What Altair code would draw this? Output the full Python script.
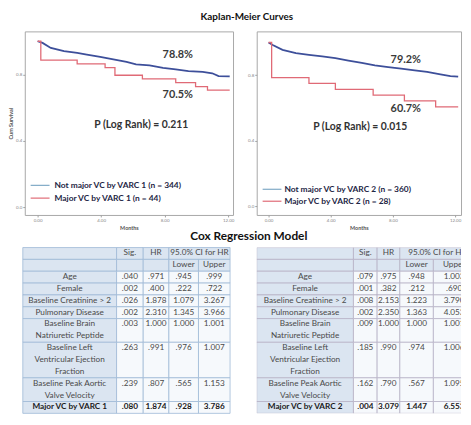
import altair as alt
import pandas as pd

FONT = "Lato"

# ---------------- Kaplan-Meier data ----------------
# VARC 1
km1_nm_month = [0, 0.31, 0.83, 1.66, 2.49, 3.1, 3.94, 4.77, 5.6, 6.2, 7.05, 7.9, 8.7, 9.5, 10.4, 11.0, 11.4, 12.1]
km1_nm_surv = [1.0, 0.99, 0.96, 0.94, 0.93, 0.92, 0.906, 0.89, 0.875, 0.86, 0.855, 0.84, 0.83, 0.82, 0.815, 0.807, 0.79, 0.788]
km1_mj_month = [0, 0.2, 2.49, 4.25, 4.87, 6.6, 8.7, 9.95, 10.7, 12.1]
km1_mj_surv = [1.0, 0.886, 0.864, 0.841, 0.795, 0.773, 0.75, 0.727, 0.705, 0.705]
# VARC 2
km2_nm_month = [0, 0.27, 0.9, 1.76, 2.6, 3.45, 4.3, 5.14, 6.0, 6.84, 7.7, 8.53, 9.4, 10.2, 11.06, 11.7, 12.2]
km2_nm_surv = [1.0, 0.985, 0.955, 0.935, 0.925, 0.915, 0.905, 0.89, 0.875, 0.86, 0.85, 0.84, 0.83, 0.82, 0.805, 0.795, 0.792]
km2_mj_month = [0, 0.2, 2.6, 4.3, 6.73, 8.74, 10.75, 12.2]
km2_mj_surv = [1.0, 0.786, 0.75, 0.714, 0.679, 0.643, 0.607, 0.607]

km1_legend = ["Not major VC by VARC 1 (n = 344)", "Major VC by VARC 1 (n = 44)"]
km2_legend = ["Not major VC by VARC 2 (n = 360)", "Major VC by VARC 2 (n = 28)"]
km1_pct = ["78.8%", "70.5%"]
km2_pct = ["79.2%", "60.7%"]
km1_p = "P (Log Rank) = 0.211"
km2_p = "P (Log Rank) = 0.015"

x_ticks = [0, 2, 4, 6, 8, 10, 12]
y_ticks = [0.0, 0.2, 0.4, 0.6, 0.8, 1.0]

# ---------------- Cox regression tables ----------------
row_labels = [["Age"], ["Female"], ["Baseline Creatinine > 2"], ["Pulmonary Disease"],
              ["Baseline Brain", "Natriuretic Peptide"],
              ["Baseline Left", "Ventricular Ejection", "Fraction"],
              ["Baseline Peak Aortic", "Valve Velocity"]]
t1_last = "Major VC by VARC 1"
t2_last = "Major VC by VARC 2"
t1_sig = [".040", ".002", ".026", ".002", ".003", ".263", ".239", ".080"]
t1_hr = [".971", ".400", "1.878", "2.310", "1.000", ".991", ".807", "1.874"]
t1_lower = [".945", ".222", "1.079", "1.345", "1.000", ".976", ".565", ".928"]
t1_upper = [".999", ".722", "3.267", "3.966", "1.001", "1.007", "1.153", "3.786"]
t2_sig = [".079", ".001", ".008", ".002", ".009", ".185", ".162", ".004"]
t2_hr = [".975", ".382", "2.153", "2.350", "1.000", ".990", ".790", "3.079"]
t2_lower = [".948", ".212", "1.223", "1.363", "1.000", ".974", ".567", "1.447"]
t2_upper = ["1.003", ".690", "3.790", "4.053", "1.001", "1.006", "1.095", "6.553"]
header1 = ["Sig.", "HR", "95.0% CI for HR"]
header2 = ["Lower", "Upper"]
main_title = "Kaplan-Meier Curves"
cox_title = "Cox Regression Model"

BLUE = "#3d4f9a"
RED = "#e06a76"
LEG_BLUE = "#7fa9c6"


def km_panel(nm_t, nm_s, mj_t, mj_s, legend, pct, ptext, lay):
    xs = alt.Scale(domain=lay["xdom"], nice=False, zero=False)
    ys = alt.Scale(domain=lay["ydom"], nice=False, zero=False)
    common = dict(domain=False, grid=False, tickSize=2, tickColor="#a0a0a0",
                  labelFontSize=4.5, labelColor="#888", labelPadding=1, labelFont=FONT,
                  titleFontSize=5.5, titleFontWeight="bold", titleColor="#555", titleFont=FONT)
    xax = alt.Axis(values=x_ticks, format=".2f", title="Months", titlePadding=3, **common)
    if lay["ytitle"]:
        yax = alt.Axis(values=y_ticks, format=".1f", title=lay["ytitle"], titlePadding=2, **common)
    else:
        yax = alt.Axis(values=y_ticks, format=".1f", title=None, **common)

    nm = pd.DataFrame({"month": nm_t, "surv": nm_s})
    mj = pd.DataFrame({"month": mj_t, "surv": mj_s})
    base_nm = alt.Chart(nm).mark_line(color=BLUE, strokeWidth=1.8).encode(
        x=alt.X("month:Q", scale=xs, axis=xax), y=alt.Y("surv:Q", scale=ys, axis=yax))
    base_mj = alt.Chart(mj).mark_line(color=RED, strokeWidth=1.3, interpolate="step-after").encode(
        x="month:Q", y="surv:Q")

    pct_df = pd.DataFrame({"month": [lay["pct_x"]] * 2, "surv": lay["pct_y"], "label": pct})
    pct_layer = alt.Chart(pct_df).mark_text(font=FONT, fontSize=11, fontWeight="bold", color="#3a3a3a").encode(
        x="month:Q", y="surv:Q", text="label:N")
    p_df = pd.DataFrame({"month": [lay["p_x"]], "surv": [lay["p_y"]], "label": [ptext]})
    p_layer = alt.Chart(p_df).mark_text(font=FONT, fontSize=10.5, fontWeight="bold", color="#333").encode(
        x="month:Q", y="surv:Q", text="label:N")

    leg_df = pd.DataFrame({"month": [lay["leg_x0"]] * 2, "month2": [lay["leg_x1"]] * 2,
                           "tx": [lay["leg_tx"]] * 2, "surv": lay["leg_y"], "label": legend})
    leg_rule = alt.Chart(leg_df).mark_rule(strokeWidth=1.2).encode(
        x="month:Q", x2="month2:Q", y="surv:Q",
        color=alt.Color("label:N", scale=alt.Scale(domain=legend, range=[LEG_BLUE, RED]), legend=None))
    leg_text = alt.Chart(leg_df).mark_text(font=FONT, fontSize=8.5, fontWeight="bold", color="#1d2544",
                                           align="left").encode(x="tx:Q", y="surv:Q", text="label:N")
    layers = [base_nm, base_mj, pct_layer, p_layer, leg_rule, leg_text]
    if lay.get("title_pos"):
        tp = lay["title_pos"]
        tdf = pd.DataFrame({"month": [tp[0]], "surv": [tp[1]], "label": [main_title]})
        layers.append(alt.Chart(tdf).mark_text(font=FONT, fontSize=10, fontWeight="bold", color="#111").encode(
            x="month:Q", y="surv:Q", text="label:N"))
    return alt.layer(*layers).properties(
        width=lay["width"], height=186,
        view=alt.ViewBackground(stroke="#a8a8a8", strokeWidth=1))


def table_panel(last_label, sig, hr, lower, upper, lay):
    e = lay["edges"]
    labels = row_labels + [[last_label]]
    cells, texts = [], []
    cells += [dict(x0=e[0], x1=e[1], y0=0, y1=1, kind="head"),
              dict(x0=e[1], x1=e[2], y0=0, y1=1, kind="head"),
              dict(x0=e[2], x1=e[3], y0=0, y1=1, kind="head"),
              dict(x0=e[3], x1=e[5], y0=0, y1=1, kind="head")]
    for i in range(5):
        cells.append(dict(x0=e[i], x1=e[i + 1], y0=1, y1=2, kind="head"))
    texts += [dict(x=(e[1] + e[2]) / 2, y=0.5, t=header1[0], b="n"),
              dict(x=(e[2] + e[3]) / 2, y=0.5, t=header1[1], b="n"),
              dict(x=(e[3] + e[5]) / 2, y=0.5, t=header1[2], b="n"),
              dict(x=(e[3] + e[4]) / 2, y=1.5, t=header2[0], b="n"),
              dict(x=(e[4] + e[5]) / 2, y=1.5, t=header2[1], b="n")]
    line = 2
    for r, lab in enumerate(labels):
        n = len(lab)
        bold = "b" if r == len(labels) - 1 else "n"
        cells.append(dict(x0=e[0], x1=e[1], y0=line, y1=line + n, kind="head"))
        for j in range(1, 5):
            cells.append(dict(x0=e[j], x1=e[j + 1], y0=line, y1=line + n, kind="data"))
        for k, s in enumerate(lab):
            texts.append(dict(x=(e[0] + e[1]) / 2, y=line + k + 0.5, t=s, b=bold))
        for j, v in enumerate([sig[r], hr[r], lower[r], upper[r]]):
            texts.append(dict(x=(e[j + 1] + e[j + 2]) / 2, y=line + 0.5, t=v, b=bold))
        line += n
    cdf = pd.DataFrame(cells)
    tdf = pd.DataFrame(texts)
    xs = alt.Scale(domain=lay["xdom"], nice=False, zero=False)
    ys = alt.Scale(domain=[0, line], nice=False, zero=False, reverse=True)
    rect = alt.Chart(cdf).mark_rect(stroke=lay["line"], strokeWidth=0.8, clip=lay["clip"]).encode(
        x=alt.X("x0:Q", scale=xs, axis=None), x2="x1:Q",
        y=alt.Y("y0:Q", scale=ys, axis=None), y2="y1:Q",
        fill=alt.Fill("kind:N", scale=alt.Scale(domain=["head", "data"], range=lay["fills"]), legend=None))
    txt_n = alt.Chart(tdf).transform_filter(alt.datum.b == "n").mark_text(
        font=FONT, fontSize=8.3, color="#4a4a4a", clip=lay["clip"]).encode(
        x="x:Q", y="y:Q", text="t:N")
    txt_b = alt.Chart(tdf).transform_filter(alt.datum.b == "b").mark_text(
        font=FONT, fontSize=8.3, fontWeight="bold", color="#1a1a1a", clip=lay["clip"]).encode(
        x="x:Q", y="y:Q", text="t:N")
    layers = [rect, txt_n, txt_b]
    if lay.get("title_pos"):
        tp = lay["title_pos"]
        ttl = pd.DataFrame({"x": [tp[0]], "y": [tp[1]], "t": [cox_title]})
        layers.append(alt.Chart(ttl).mark_text(font=FONT, fontSize=12, fontWeight="bold", color="#111").encode(
            x="x:Q", y="y:Q", text="t:N"))
    return alt.layer(*layers).properties(
        width=lay["width"], height=168, view=alt.ViewBackground(strokeOpacity=0))


left_w, right_w = 211, 207
km_left = km_panel(km1_nm_month, km1_nm_surv, km1_mj_month, km1_mj_surv, km1_legend, km1_pct, km1_p,
                   dict(xdom=[-0.81, 12.31], ydom=[-0.0476, 1.0595], width=left_w, ytitle="Cum Survival",
                        pct_x=8.83, pct_y=[0.918, 0.674], p_x=6.53, p_y=0.495,
                        leg_x0=-0.44, leg_x1=0.75, leg_tx=1.06, leg_y=[0.131, 0.054],
                        title_pos=(13.18, 1.149)))
km_right = km_panel(km2_nm_month, km2_nm_surv, km2_mj_month, km2_mj_surv, km2_legend, km2_pct, km2_p,
                    dict(xdom=[-0.76, -0.76 + right_w / 15.75], ydom=[-0.054, 1.068], width=right_w, ytitle="",
                         pct_x=8.83, pct_y=[0.893, 0.591], p_x=5.9, p_y=0.483,
                         leg_x0=-0.38, leg_x1=0.83, leg_tx=1.02, leg_y=[0.103, 0.030]))

tab_left = table_panel(t1_last, t1_sig, t1_hr, t1_lower, t1_upper,
                       dict(edges=[0, 95, 122, 148, 178, 210], xdom=[2, 2 + left_w], width=left_w,
                            fills=["#dbe5f1", "#f6f9fc"], line="#9fb9d6", clip=False,
                            title_pos=(229, -1.0)))
tab_right = table_panel(t2_last, t2_sig, t2_hr, t2_lower, t2_upper,
                        dict(edges=[0, 98, 122, 145, 179, 221], xdom=[0, right_w], width=right_w,
                             fills=["#e7e5ed", "#f8f8fa"], line="#b7b2c6", clip=True))

chart = alt.concat(km_left, km_right, tab_left, tab_right, columns=2, bounds="flush",
                   spacing=alt.RowColnumber(row=33, column=24)).properties(
    padding=0
).configure(background="white", font=FONT)

chart.save("out.html", embed_options={"renderer": "svg", "actions": False})
